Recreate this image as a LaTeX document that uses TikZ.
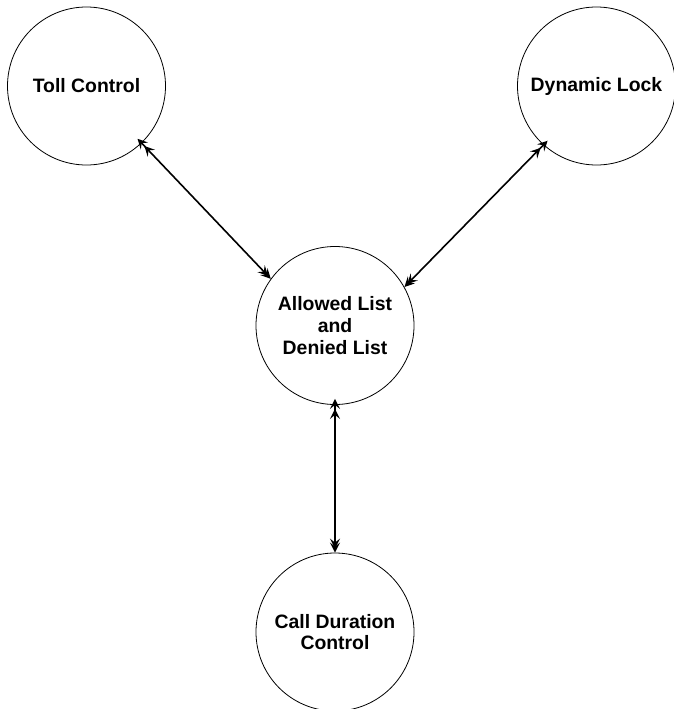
\documentclass[tikz,border=0pt]{standalone}
\usepackage{fontspec}
\setmainfont{Liberation Sans}
\usetikzlibrary{arrows.meta}
\begin{document}
\begin{tikzpicture}[x=1pt,y=-1pt,
  unit/.style={circle, draw=black, line width=0.8pt, minimum size=158pt, inner sep=0pt,
    align=center, font=\fontsize{19.4}{21.6}\selectfont\bfseries, text=black},
  link/.style={line width=1.6pt, black,
    {Stealth[length=10pt,width=10pt,inset=4pt,sep=-6pt]Stealth[length=10pt,width=10pt,inset=4pt]}-{Stealth[length=10pt,width=10pt,inset=4pt,sep=-6pt]Stealth[length=10pt,width=10pt,inset=4pt]}}]
  \useasboundingbox (0,0) rectangle (674,709);
  \clip (0,0) rectangle (674,709);
  \node[unit] (toll) at (86.5,86) {Toll Control};
  \node[unit] (lock) at (596.5,86) {Dynamic Lock};
  \node[unit] (list) at (335,325.5) {Allowed List\\and\\Denied List};
  \node[unit] (dur)  at (335,632) {Call Duration\\Control};
  \draw[link] (toll.314) -- (list.144);
  \draw[link] (lock.228) -- (list.29);
  \draw[link] (list.south) -- (dur.north);
\end{tikzpicture}
\end{document}
